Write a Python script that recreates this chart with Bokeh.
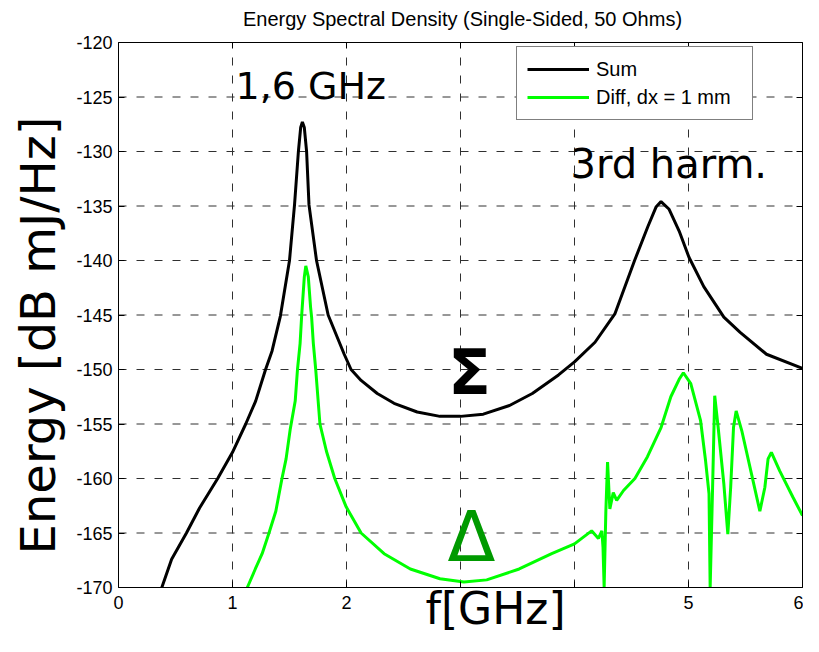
import math
from bokeh.plotting import figure
from bokeh.models import (Label, LinearAxis, FixedTicker, Legend, LegendItem, Range1d)
from bokeh.embed import file_html
from bokeh.resources import INLINE

# ---- data ----
sum_x = [0.38, 0.466, 0.596, 0.711, 0.87, 1.0, 1.116, 1.203, 1.29, 1.347, 1.42, 1.50, 1.544, 1.578,
         1.598, 1.613, 1.63, 1.65, 1.671, 1.737, 1.839, 1.98, 2.04, 2.128, 2.27, 2.417, 2.62, 2.82,
         3.0, 3.2, 3.43, 3.63, 3.86, 4.0, 4.18, 4.354, 4.527, 4.643, 4.715, 4.759, 4.83, 4.918,
         5.004, 5.134, 5.31, 5.453, 5.684, 6.0]
sum_y = [-170, -167.4, -165, -162.7, -160, -157.6, -155, -152.9, -150, -148.3, -145.1, -140, -134.9, -130,
         -127.8, -127.3, -127.8, -130, -134.9, -140, -145, -148.6, -150, -151, -152.2, -153.1, -153.9, -154.3,
         -154.3, -154.1, -153.3, -152.2, -150.5, -149.3, -147.5, -144.9, -140, -136.9, -135.1, -134.6, -135.3, -137.3,
         -139.7, -142.4, -145.2, -146.6, -148.6, -149.9]

diff_x = [1.13, 1.2, 1.26, 1.32, 1.38, 1.434, 1.47, 1.506, 1.55, 1.57, 1.593, 1.607, 1.63, 1.643,
          1.665, 1.685, 1.694, 1.709, 1.73, 1.767, 1.824, 1.897, 1.997, 2.128, 2.33, 2.56, 2.82, 3.03,
          3.23, 3.515, 3.80, 4.0, 4.15, 4.21, 4.24, 4.25, 4.26, 4.275, 4.29, 4.31, 4.34, 4.37, 4.43,
          4.53, 4.64, 4.76, 4.845, 4.918, 4.955, 5.02, 5.106, 5.15, 5.18, 5.19, 5.21, 5.23, 5.26, 5.31,
          5.345, 5.37, 5.395, 5.418, 5.467, 5.553, 5.626, 5.67, 5.698, 5.727, 5.80, 5.915, 6.0]
diff_y = [-170, -168.3, -166.9, -165, -163, -160, -158.2, -155.5, -152.9, -150, -147.6, -145, -141.5, -140.5,
          -141.5, -144.3, -145.2, -147.6, -150, -155, -157.5, -160, -162.6, -165, -166.9, -168.3, -169.2, -169.5,
          -169.3, -168.3, -166.9, -166, -164.8, -165.5, -164.8, -166.3, -170, -163, -158.5, -162.8, -161.3, -162, -161.1,
          -160, -158, -155.3, -152.5, -150.9, -150.3, -151.3, -154.7, -158.4, -161.4, -170, -161.4, -152.4, -155.3, -160.5,
          -165.1, -160.8, -155.3, -153.8, -155.6, -159.6, -163, -160.8, -158.2, -157.6, -159.3, -161.7, -163.4]

x_ticks = [0, 1, 2, 3, 4, 5, 6]
x_tick_labels = {3: "", 4: ""}
y_ticks = [-170, -165, -160, -155, -150, -145, -140, -135, -130, -125, -120]
y_tick_labels = {t: str(t) for t in y_ticks}

title_text = "Energy Spectral Density (Single-Sided, 50 Ohms)"
legend_labels = ["Sum", "Diff, dx = 1 mm"]
x_label = "f[GHz]"
y_label = "Energy [dB mJ/Hz]"

TICK_FONT = "Liberation Sans"
ANNO_FONT = "DejaVu Sans"

# canvas geometry (the whole canvas is the frame; axes are drawn at fixed data locations)
W, H = 803, 636
PX_LEFT, PX_RIGHT, PX_TOP, PX_BOTTOM = 118, 802, 42, 587
X0, X1, Y0, Y1 = 0, 6, -170, -120
sx = (PX_RIGHT - PX_LEFT) / (X1 - X0)
sy = (PX_BOTTOM - PX_TOP) / (Y1 - Y0)
xr = Range1d(X0 - PX_LEFT / sx, X1 + (W - PX_RIGHT) / sx)
yr = Range1d(Y0 - (H - PX_BOTTOM) / sy, Y1 + PX_TOP / sy)

p = figure(width=W, height=H, x_range=xr, y_range=yr, output_backend="svg",
           toolbar_location=None, min_border=0, min_border_left=0, min_border_right=0,
           min_border_top=0, min_border_bottom=0)
p.title.visible = False
p.outline_line_color = None
p.background_fill_color = "white"
p.border_fill_color = "white"
p.xgrid.visible = False
p.ygrid.visible = False

xt = FixedTicker(ticks=x_ticks)
yt = FixedTicker(ticks=y_ticks)

# dashed grid lines spanning only the data box
gx = x_ticks[1:-1]
gy = y_ticks[1:-1]
p.segment(x0=gx, y0=[Y0] * len(gx), x1=gx, y1=[Y1] * len(gx),
          line_color="#303030", line_width=1, line_dash="8 10")
p.segment(x0=[X0] * len(gy), y0=gy, x1=[X1] * len(gy), y1=gy,
          line_color="#303030", line_width=1, line_dash="8 10")

def style_axis(ax, show_labels=True):
    ax.axis_line_color = "black"
    ax.axis_line_width = 1
    ax.major_tick_in = 6
    ax.major_tick_out = 0
    ax.major_tick_line_color = "black"
    ax.minor_tick_line_color = None
    if show_labels:
        ax.major_label_text_font = TICK_FONT
        ax.major_label_text_font_size = "18px"
        ax.major_label_text_color = "black"
    else:
        ax.major_label_text_font_size = "0px"
        ax.major_label_text_color = None
        ax.major_label_standoff = 0

bx = p.xaxis[0]
ly = p.yaxis[0]
bx.ticker = xt
bx.major_label_overrides = x_tick_labels
bx.fixed_location = Y0
bx.bounds = (X0, X1)
style_axis(bx)
bx.major_label_standoff = 8

ly.ticker = yt
ly.major_label_overrides = y_tick_labels
ly.fixed_location = X0
ly.bounds = (Y0, Y1)
style_axis(ly)
ly.major_label_standoff = 6

top_ax = LinearAxis(ticker=xt, fixed_location=Y1, bounds=(X0, X1))
style_axis(top_ax, False)
right_ax = LinearAxis(ticker=yt, fixed_location=X1, bounds=(Y0, Y1))
style_axis(right_ax, False)
p.add_layout(top_ax, "above")
p.add_layout(right_ax, "right")

r_sum = p.line(sum_x, sum_y, line_color="black", line_width=3)
r_diff = p.line(diff_x, diff_y, line_color="#00FF00", line_width=3)

legend = Legend(items=[LegendItem(label=legend_labels[0], renderers=[r_sum]),
                       LegendItem(label=legend_labels[1], renderers=[r_diff])],
                location=(516, H - 120), margin=0, padding=10, spacing=4,
                glyph_width=62, glyph_height=24, label_height=24, label_width=146,
                label_standoff=7, label_text_font=TICK_FONT, label_text_font_size="20px",
                label_text_color="black",
                border_line_color="black", border_line_width=1, background_fill_alpha=1)
p.add_layout(legend, "center")

def to_x(px):
    return X0 + (px - PX_LEFT) / sx

def to_y(py):
    return Y1 - (py - PX_TOP) / sy

def lab(px, py, text, size, color="black", align="left", font=ANNO_FONT,
        style="normal", angle=0, shift=0.31):
    # px, py: pixel position of the text's baseline anchor; corrected for renderer offset
    if angle == 0:
        py = py - shift * size
    else:
        px = px - shift * size
    p.add_layout(Label(x=to_x(px), y=to_y(py), text=text, text_font=font,
                       text_font_size=f"{size}px", text_color=color, text_align=align,
                       text_baseline="alphabetic", text_font_style=style, angle=angle))

lab(462, 25, title_text, 20, align="center", font=TICK_FONT)
lab(235, 97, "1,6 GHz", 38)
lab(570, 176, "3rd harm.", 40)
lab(469, 392, "\u03a3", 63, align="center", style="bold")
lab(471, 558, "\u0394", 70, color="#009A00", align="center")
lab(495, 622, x_label, 44, align="center")
lab(57, 335, y_label, 48, align="center", angle=math.pi / 2, shift=0.40)

open("out.html", "w").write(file_html(p, INLINE))
